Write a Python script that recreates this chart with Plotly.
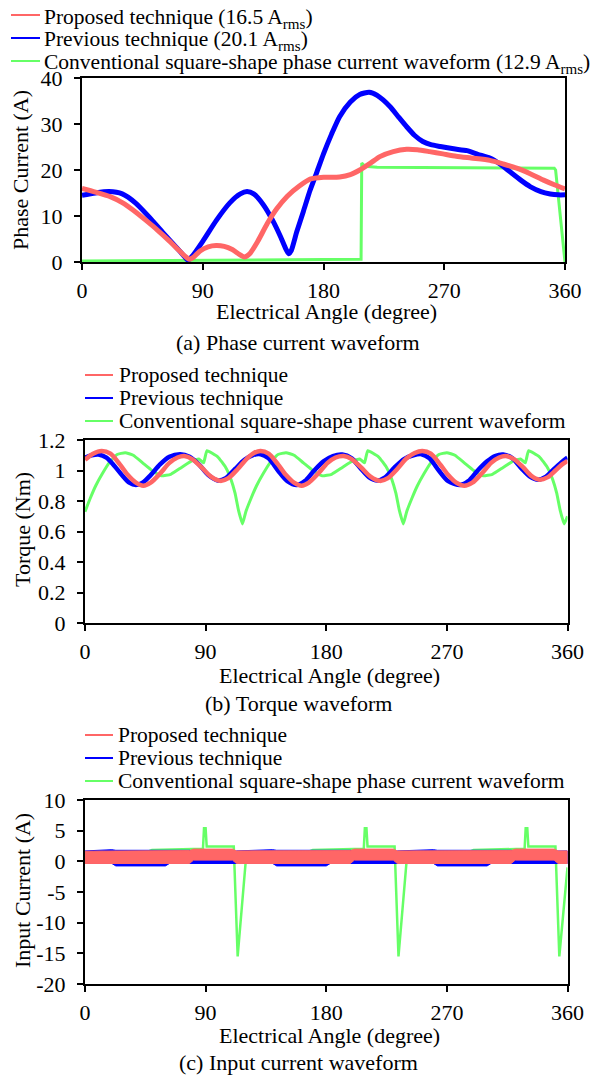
import plotly.graph_objects as go

# ---------------- data ----------------
angle_ticks = [0, 90, 180, 270, 360]

# (a) phase current waveform [A]
pc_prev_angle = [0, 10, 20, 30, 40, 50, 60, 70, 76, 79, 82, 90, 100, 110, 118, 123, 128, 135, 142, 148,
                 152, 154, 156, 160, 165, 170, 175, 180, 186, 192, 200, 207, 214, 220, 229.5, 236, 242,
                 248, 254, 260, 267, 277, 287, 295, 304, 312, 319, 327, 334, 342, 349, 355, 360]
pc_prev = [14.5, 15.0, 15.3, 14.8, 12.8, 9.8, 6.5, 3.3, 1.3, 0.4, 1.2, 4.5, 9.0, 12.8, 14.8, 15.3, 14.8,
           12.5, 9.1, 5.5, 2.8, 1.8, 2.5, 6.5, 11.0, 15.6, 19.5, 23.5, 27.8, 31.6, 34.8, 36.4, 36.9, 36.2,
           33.8, 31.5, 29.4, 27.5, 26.2, 25.5, 25.1, 24.6, 24.2, 23.4, 22.6, 21.2, 19.6, 17.8, 16.4, 15.3,
           14.8, 14.6, 14.6]
pc_prop_angle = [0, 10, 21, 30, 38, 47, 56, 65, 72, 77, 80, 83, 88, 94, 100, 106, 112, 117, 121, 125,
                 131, 138, 145, 153, 162, 170, 180, 192, 200, 207, 215, 222, 232, 242, 250, 259, 269,
                 279, 290, 304, 314, 324, 334, 344, 352, 360]
pc_prop = [16.0, 15.2, 14.2, 12.9, 11.3, 9.2, 7.0, 4.6, 2.6, 1.2, 0.6, 1.0, 2.4, 3.3, 3.6, 3.4, 2.7, 1.7,
           1.1, 1.8, 4.5, 8.3, 11.5, 14.3, 16.5, 18.0, 18.4, 18.5, 19.0, 20.0, 21.5, 22.9, 24.0, 24.5,
           24.4, 24.0, 23.5, 23.0, 22.6, 22.1, 21.3, 20.4, 19.2, 17.8, 16.8, 15.9]
pc_conv_angle = [0, 100, 150, 208, 208.5, 211, 220, 300, 352, 353, 360]
pc_conv = [0.2, 0.35, 0.5, 0.6, 21.5, 20.8, 20.6, 20.5, 20.4, 20.0, 0.0]

# (b) torque waveform [Nm]
tq_prev_angle = [0, 5, 10, 16, 22, 28, 33, 38, 43, 49, 56, 63, 71, 78, 85, 92, 99, 105, 112, 119, 125,
                 131, 137, 144, 151, 158, 164, 171, 178, 185, 192, 199, 206, 212, 218, 224, 231, 238,
                 245, 251, 257, 264, 271, 280, 286, 293, 300, 306, 312, 319, 326, 332, 338, 344, 350,
                 355, 360]
tq_prev = [1.085, 1.10, 1.105, 1.085, 1.03, 0.965, 0.92, 0.905, 0.92, 0.97, 1.04, 1.09, 1.107, 1.09,
           1.04, 0.97, 0.935, 0.95, 1.01, 1.07, 1.10, 1.107, 1.08, 1.0, 0.93, 0.905, 0.93, 1.0, 1.06,
           1.095, 1.105, 1.08, 1.01, 0.955, 0.935, 0.955, 1.02, 1.075, 1.10, 1.107, 1.08, 1.0, 0.93,
           0.905, 0.93, 1.0, 1.06, 1.095, 1.105, 1.08, 1.01, 0.96, 0.94, 0.96, 1.01, 1.05, 1.085]
tq_prop_angle = [0, 6, 12.5, 19, 26, 32, 38, 43.5, 49, 56, 63, 69, 74, 80, 87, 94, 101, 107, 114, 121,
                 126, 131, 137, 144, 150, 156, 161.7, 167, 174, 181, 187, 193, 199, 206, 213, 220, 226,
                 233, 240, 246, 251.7, 258, 265, 271, 277, 283, 289, 296, 303, 309, 314, 320, 327, 333,
                 339, 345, 351, 356, 360]
tq_prop = [1.07, 1.11, 1.128, 1.11, 1.04, 0.97, 0.92, 0.90, 0.92, 0.98, 1.05, 1.085, 1.095, 1.075, 1.02,
           0.96, 0.932, 0.95, 1.01, 1.08, 1.115, 1.128, 1.11, 1.04, 0.97, 0.92, 0.90, 0.92, 0.98, 1.05,
           1.085, 1.095, 1.075, 1.02, 0.96, 0.932, 0.95, 1.01, 1.08, 1.115, 1.128, 1.11, 1.04, 0.97,
           0.92, 0.90, 0.92, 0.98, 1.05, 1.085, 1.095, 1.075, 1.02, 0.965, 0.94, 0.955, 1.0, 1.04, 1.063]
tq_conv_angle = [0, 4, 8, 13, 18, 24, 30, 36, 43, 50, 57, 64, 72, 80, 85, 88.5, 91, 99, 105, 109, 112,
                 114.5, 117.5, 120, 124, 128, 133, 138, 144, 150, 156, 163, 170, 177, 184, 192, 200,
                 205, 208.5, 211, 219, 225, 229, 232, 234.5, 237.5, 240, 244, 248, 253, 258, 264, 270,
                 276, 283, 290, 297, 304, 312, 320, 325, 328.5, 331, 339, 345, 349, 352, 354.5, 357.5, 360]
tq_conv = [0.73, 0.82, 0.90, 0.98, 1.05, 1.105, 1.117, 1.10, 1.05, 1.0, 0.965, 0.975, 1.02, 1.065, 1.075,
           1.05, 1.13, 1.09, 1.02, 0.94, 0.85, 0.74, 0.65, 0.73, 0.82, 0.90, 0.98, 1.05, 1.105, 1.117,
           1.10, 1.05, 1.0, 0.965, 0.975, 1.02, 1.065, 1.075, 1.05, 1.13, 1.09, 1.02, 0.94, 0.85, 0.74,
           0.65, 0.73, 0.82, 0.90, 0.98, 1.05, 1.105, 1.117, 1.10, 1.05, 1.0, 0.965, 0.975, 1.02, 1.065,
           1.075, 1.05, 1.13, 1.09, 1.02, 0.94, 0.85, 0.74, 0.65, 0.70]

# (c) input current waveform [A] -- switching ripple band (upper / lower envelope)
ic_band_angle = [0, 20, 23, 60, 63, 78, 81, 110, 113, 140, 143, 180, 183, 198, 201, 230, 233, 260, 263,
                 300, 303, 318, 321, 350, 353, 360]
ic_prev_hi = [1.7, 1.9, 1.8, 1.8, 1.8, 1.8, 1.6, 1.6, 1.7, 1.9, 1.8, 1.8, 1.8, 1.8, 1.6, 1.6, 1.7, 1.9,
              1.8, 1.8, 1.8, 1.8, 1.6, 1.6, 1.7, 1.7]
ic_prev_lo = [-0.35, -0.35, -0.75, -0.75, -0.35, -0.35, -0.4, -0.4, -0.35, -0.35, -0.75, -0.75, -0.35,
              -0.35, -0.4, -0.4, -0.35, -0.35, -0.75, -0.75, -0.35, -0.35, -0.4, -0.4, -0.35, -0.35]
ic_prop_hi = [1.65, 1.7, 1.7, 1.7, 1.7, 1.75, 2.0, 2.0, 1.7, 1.7, 1.7, 1.7, 1.7, 1.75, 2.0, 2.0, 1.7,
              1.7, 1.7, 1.7, 1.7, 1.75, 2.0, 2.0, 1.7, 1.7]
ic_prop_lo = [-0.35, -0.35, -0.4, -0.4, -0.35, -0.35, 0.2, 0.2, -0.35, -0.35, -0.4, -0.4, -0.35, -0.35,
              0.2, 0.2, -0.35, -0.35, -0.4, -0.4, -0.35, -0.35, 0.2, 0.2, -0.35, -0.35]
ic_conv_angle = [0, 45, 50, 85, 88, 88.8, 90.0, 90.8, 111.0, 113.9, 120, 122, 165, 170, 205, 208, 208.8,
                 210.0, 210.8, 231.0, 233.9, 240, 242, 285, 290, 325, 328, 328.8, 330.0, 330.8, 351.0,
                 353.9, 360]
ic_conv = [1.3, 1.4, 1.85, 2.05, 2.05, 5.4, 5.4, 2.4, 2.4, -15.5, 0.2, 1.3, 1.4, 1.85, 2.05, 2.05, 5.4,
           5.4, 2.4, 2.4, -15.5, 0.2, 1.3, 1.4, 1.85, 2.05, 2.05, 5.4, 5.4, 2.4, 2.4, -15.5, -1.0]

pc_yticks = [0, 10, 20, 30, 40]
tq_yticks = [0, 0.2, 0.4, 0.6, 0.8, 1.0, 1.2]
tq_ytick_labels = ["0", "0.2", "0.4", "0.6", "0.8", "1", "1.2"]
ic_yticks = [-20, -15, -10, -5, 0, 5, 10]
ic_ytick_labels = ["-20", "-15", "-10", "-5", "0", "5", "10"]

names_a = ["Proposed technique (16.5 A<sub>rms</sub>)",
           "Previous technique (20.1 A<sub>rms</sub>)",
           "Conventional square-shape phase current waveform (12.9 A<sub>rms</sub>)"]
names_bc = ["Proposed technique", "Previous technique",
            "Conventional square-shape phase current waveform"]

# ---------------- style ----------------
RED = "#FF6666"
BLUE = "#0000FF"
GREEN = "#66FF66"
FONT = "Liberation Serif"
W, H = 591, 1076


def px(x):
    return x / W


def py(y):
    return 1 - y / H


fig = go.Figure()

# panel (a)
fig.add_trace(go.Scatter(x=pc_conv_angle, y=pc_conv, mode="lines", name=names_bc[2],
                         line=dict(color=GREEN, width=3), xaxis="x", yaxis="y", showlegend=False))
fig.add_trace(go.Scatter(x=pc_prev_angle, y=pc_prev, mode="lines", name=names_bc[1],
                         line=dict(color=BLUE, width=5, shape="spline", smoothing=0.6),
                         xaxis="x", yaxis="y", showlegend=False))
fig.add_trace(go.Scatter(x=pc_prop_angle, y=pc_prop, mode="lines", name=names_bc[0],
                         line=dict(color=RED, width=5, shape="spline", smoothing=0.6),
                         xaxis="x", yaxis="y", showlegend=False))

# panel (b)
fig.add_trace(go.Scatter(x=tq_conv_angle, y=tq_conv, mode="lines", name=names_bc[2],
                         line=dict(color=GREEN, width=3, shape="spline", smoothing=0.4),
                         xaxis="x2", yaxis="y2", showlegend=False))
fig.add_trace(go.Scatter(x=tq_prev_angle, y=tq_prev, mode="lines", name=names_bc[1],
                         line=dict(color=BLUE, width=4.5, shape="spline", smoothing=0.8),
                         xaxis="x2", yaxis="y2", showlegend=False))
fig.add_trace(go.Scatter(x=tq_prop_angle, y=tq_prop, mode="lines", name=names_bc[0],
                         line=dict(color=RED, width=4.5, shape="spline", smoothing=0.8),
                         xaxis="x2", yaxis="y2", showlegend=False))

# panel (c)
fig.add_trace(go.Scatter(x=ic_conv_angle, y=ic_conv, mode="lines", name=names_bc[2],
                         line=dict(color=GREEN, width=2.5), xaxis="x3", yaxis="y3", showlegend=False))
fig.add_trace(go.Scatter(x=ic_band_angle + ic_band_angle[::-1], y=ic_prev_hi + ic_prev_lo[::-1],
                         mode="lines", fill="toself", fillcolor=BLUE, name=names_bc[1],
                         line=dict(color=BLUE, width=1), xaxis="x3", yaxis="y3", showlegend=False))
fig.add_trace(go.Scatter(x=ic_band_angle + ic_band_angle[::-1], y=ic_prop_hi + ic_prop_lo[::-1],
                         mode="lines", fill="toself", fillcolor=RED, name=names_bc[0],
                         line=dict(color=RED, width=1), xaxis="x3", yaxis="y3", showlegend=False))

xdom_a = [px(82), px(565)]
xdom_bc = [px(85), px(567.5)]
ydom_a = [py(262), py(78)]
ydom_b = [py(623), py(440)]
ydom_c = [py(984), py(800)]

axis_common = dict(showline=True, linewidth=2, linecolor="black", mirror=True, showgrid=False,
                   zeroline=False, ticks="outside", ticklen=6, tickwidth=2, tickcolor="black",
                   automargin=False,
                   tickfont=dict(family=FONT, size=22, color="black"))

xcommon = dict(axis_common, range=[0, 360], tickmode="array", tickvals=angle_ticks,
               ticklabelstandoff=2)
ycommon = dict(axis_common, ticklabelstandoff=7)

fig.update_layout(
    width=W, height=H, margin=dict(l=0, r=0, t=0, b=0, pad=0, autoexpand=False),
    paper_bgcolor="white", plot_bgcolor="white",
    font=dict(family=FONT, size=22, color="black"),
    showlegend=False,
    xaxis=dict(xcommon, domain=xdom_a, anchor="y"),
    yaxis=dict(ycommon, domain=ydom_a, anchor="x", range=[0, 40], tickmode="array", tickvals=pc_yticks),
    xaxis2=dict(xcommon, domain=xdom_bc, anchor="y2"),
    yaxis2=dict(ycommon, domain=ydom_b, anchor="x2", range=[0, 1.2], tickmode="array",
                tickvals=tq_yticks, ticktext=tq_ytick_labels),
    xaxis3=dict(xcommon, domain=xdom_bc, anchor="y3"),
    yaxis3=dict(ycommon, domain=ydom_c, anchor="x3", range=[-20, 10], tickmode="array",
                tickvals=ic_yticks, ticktext=ic_ytick_labels),
)

ann = []
shapes = []


def text_ann(x, y, text, size=22, angle=0, xanchor="center"):
    ann.append(dict(x=px(x), y=py(y), xref="paper", yref="paper", text=text, showarrow=False,
                    xanchor=xanchor, yanchor="middle", textangle=angle, borderpad=0,
                    font=dict(family=FONT, size=size, color="black")))


# axis titles
text_ann(326, 311, "Electrical Angle (degree)")
text_ann(329, 675, "Electrical Angle (degree)")
text_ann(329, 1035, "Electrical Angle (degree)")
text_ann(20, 170, "Phase Current (A)", angle=-90)
text_ann(22, 530, "Torque (Nm)", angle=-90)
text_ann(22, 891, "Input Current (A)", angle=-90)
# captions
text_ann(298, 343, "(a) Phase current waveform")
text_ann(298, 703, "(b) Torque waveform")
text_ann(298, 1062, "(c) Input current waveform")


def legend_block(x_line0, x_line1, x_text, rows, text_rows, names, size):
    for (yy, ty, name, col) in zip(rows, text_rows, names, [RED, BLUE, GREEN]):
        shapes.append(dict(type="line", xref="paper", yref="paper", x0=px(x_line0), x1=px(x_line1),
                           y0=py(yy), y1=py(yy), line=dict(color=col, width=2)))
        text_ann(x_text, ty, name, size=size, xanchor="left")


legend_block(11, 40, 43, [15, 38, 61], [18, 40.5, 63.5], names_a, 21.5)
legend_block(85, 113, 118, [375, 398, 421], [375, 398, 421], names_bc, 21.5)
legend_block(85, 113, 117, [735, 758, 781], [735, 758, 781], names_bc, 21.5)

fig.update_layout(annotations=ann, shapes=shapes)

# remove the default 8px page margin so the figure fills the window exactly
fig.write_html("out.html", config={"displayModeBar": False},
               post_script="document.body.style.margin='0px';")
